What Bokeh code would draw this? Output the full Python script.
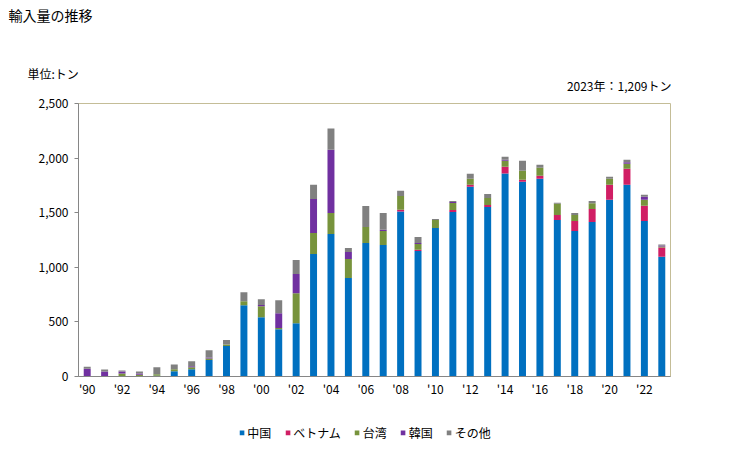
from bokeh.plotting import figure
from bokeh.models import (Legend, LegendItem, Label, FixedTicker, NumeralTickFormatter,
                          Range1d, ColumnDataSource)
from bokeh.embed import file_html
from bokeh.resources import INLINE

# ---- data (tons) ----
years = list(range(1990, 2024))
china = [0, 0, 5, 5, 8, 48, 67, 150, 279, 652, 542, 432, 487, 1121, 1305, 901, 1222,
         1204, 1510, 1149, 1360, 1507, 1737, 1553, 1860, 1783, 1810, 1434, 1333, 1415,
         1618, 1756, 1425, 1097]
vietnam = [0, 0, 0, 0, 0, 0, 0, 0, 0, 0, 0, 0, 0, 0, 0, 0, 0,
           0, 18, 12, 0, 18, 18, 18, 61, 18, 28, 46, 92, 119,
           138, 147, 138, 85]
taiwan = [0, 5, 22, 10, 12, 18, 18, 15, 15, 37, 101, 12, 276, 193, 193, 175, 147,
          129, 126, 52, 74, 64, 55, 64, 55, 83, 74, 101, 55, 52,
          55, 46, 55, 9]
korea = [72, 40, 18, 12, 0, 0, 9, 9, 0, 0, 12, 135, 175, 312, 579, 64, 0,
         12, 0, 9, 0, 9, 0, 0, 9, 0, 0, 0, 0, 0,
         0, 12, 28, 9]
other = [18, 18, 10, 19, 65, 44, 46, 67, 40, 83, 52, 119, 129, 129, 193, 37, 193,
         153, 46, 55, 9, 9, 46, 37, 28, 92, 28, 9, 18, 21,
         18, 25, 18, 9]
series_names = ["中国", "ベトナム", "台湾", "韓国", "その他"]
series_keys = ["china", "vietnam", "taiwan", "korea", "other"]
colors = ["#0070c0", "#d01e64", "#77933c", "#7030a0", "#808080"]
tick_years = list(range(1990, 2023, 2))
tick_labels = ["'" + str(y)[2:] for y in tick_years]
y_ticks = [0, 500, 1000, 1500, 2000, 2500]

title_text = "輸入量の推移"
unit_text = "単位:トン"
latest_text = "2023年：1,209トン"

FONT = "Noto Sans CJK JP"
W = 729
HEADER_H = 95
MAIN_H = 305
LEGEND_H = 50


def bare(fig):
    fig.grid.visible = False
    fig.outline_line_color = None
    fig.background_fill_color = "white"
    fig.border_fill_color = "white"


# ---- header strip: title, unit, latest value (page-pixel coordinates) ----
h = figure(width=W, height=HEADER_H, x_range=Range1d(0, W), y_range=Range1d(HEADER_H, 0),
           x_axis_location=None, y_axis_location=None, min_border=0,
           output_backend="svg", toolbar_location=None, tools="")
bare(h)
h.add_layout(Label(x=8, y=14, text=title_text, text_font=FONT,
                   text_font_size="14px", text_baseline="middle", text_align="left",
                   text_color="black"))
h.add_layout(Label(x=27, y=73, text=unit_text, text_font=FONT,
                   text_font_size="12px", text_baseline="middle", text_align="left",
                   text_color="black"))
h.add_layout(Label(x=671, y=85, text=latest_text, text_font=FONT,
                   text_font_size="12px", text_baseline="middle", text_align="right",
                   text_color="black"))

# ---- main chart ----
src = ColumnDataSource(dict(year=years, china=china, vietnam=vietnam, taiwan=taiwan,
                            korea=korea, other=other))

p = figure(width=W, height=MAIN_H,
           min_border_left=78, min_border_top=8, min_border_right=59, min_border_bottom=24,
           x_range=Range1d(1989.5, 2023.5), y_range=Range1d(0, 2500),
           output_backend="svg", toolbar_location=None, tools="")
p.background_fill_color = "white"
p.border_fill_color = "white"
p.outline_line_color = "#c4bd97"
p.outline_line_width = 1

renderers = p.vbar_stack(series_keys, x="year", width=0.4, color=colors,
                         line_color=None, source=src)

p.xgrid.visible = False
p.ygrid.visible = False

AX = "#868686"
p.xaxis.ticker = FixedTicker(ticks=tick_years)
p.xaxis.major_label_overrides = {y: l for y, l in zip(tick_years, tick_labels)}
p.xaxis.major_tick_out = 0
p.xaxis.major_tick_in = 0
p.xaxis.minor_tick_out = 0
p.xaxis.minor_tick_in = 0
p.xaxis.axis_line_color = AX
p.xaxis.major_label_standoff = 3
p.xaxis.major_label_text_font = FONT
p.xaxis.major_label_text_font_size = "12px"
p.xaxis.major_label_text_color = "black"

p.yaxis.ticker = FixedTicker(ticks=y_ticks)
p.yaxis.formatter = NumeralTickFormatter(format="0,0")
p.yaxis.major_tick_out = 4
p.yaxis.major_tick_in = 0
p.yaxis.minor_tick_out = 0
p.yaxis.minor_tick_in = 0
p.yaxis.axis_line_color = AX
p.yaxis.major_tick_line_color = AX
p.yaxis.major_label_standoff = 6
p.yaxis.major_label_text_font = FONT
p.yaxis.major_label_text_font_size = "12px"
p.yaxis.major_label_text_color = "black"

# ---- legend strip (swatch renderers sit outside the visible range) ----
lg = figure(width=W, height=LEGEND_H, x_range=Range1d(0, 1), y_range=Range1d(0, 1),
            x_axis_location=None, y_axis_location=None,
            min_border_left=0, min_border_right=0, min_border_top=14, min_border_bottom=0,
            output_backend="svg", toolbar_location=None, tools="")
bare(lg)
swatches = [lg.vbar(x=[-5], top=[-5], width=0.1, color=c, line_color=None) for c in colors]
legend = Legend(items=[LegendItem(label=n, renderers=[r]) for n, r in zip(series_names, swatches)],
                orientation="horizontal", location="center",
                border_line_color=None, background_fill_alpha=0,
                glyph_width=6, glyph_height=6, label_standoff=3, spacing=13,
                label_height=12, label_text_font=FONT, label_text_font_size="12px",
                label_text_color="black", padding=0, margin=0)
lg.add_layout(legend)

open("out.html", "w").write(file_html([h, p, lg], INLINE))
